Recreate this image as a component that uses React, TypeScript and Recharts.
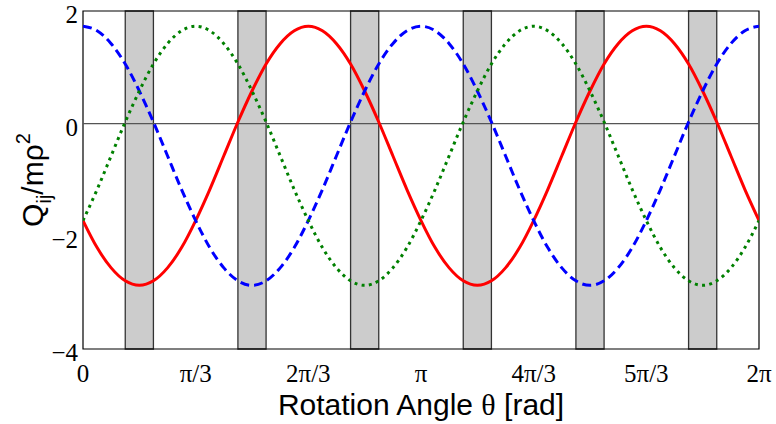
import React from "react";
import {
  LineChart,
  Line,
  XAxis,
  YAxis,
  ReferenceArea,
  ReferenceLine,
} from "recharts";

// x positions in steps of π/24 (0 .. 2π)
const steps = [
  0, 1, 2, 3, 4, 5, 6, 7, 8, 9, 10, 11, 12, 13, 14, 15, 16, 17, 18, 19, 20, 21, 22, 23,
  24, 25, 26, 27, 28, 29, 30, 31, 32, 33, 34, 35, 36, 37, 38, 39, 40, 41, 42, 43, 44, 45, 46, 47,
  48,
];

const redSeries = [
  -1.72, -2.2, -2.56, -2.79, -2.87, -2.79, -2.56, -2.2, -1.72, -1.17, -0.57, 0.03, 0.58, 1.06, 1.42, 1.65,
  1.73, 1.65, 1.42, 1.06, 0.58, 0.03, -0.57, -1.17,
  -1.72, -2.2, -2.56, -2.79, -2.87, -2.79, -2.56, -2.2, -1.72, -1.17, -0.57, 0.03, 0.58, 1.06, 1.42, 1.65,
  1.73, 1.65, 1.42, 1.06, 0.58, 0.03, -0.57, -1.17,
  -1.72,
];

const blueSeries = [
  1.73, 1.65, 1.42, 1.06, 0.58, 0.03, -0.57, -1.17, -1.72, -2.2, -2.56, -2.79, -2.87, -2.79, -2.56, -2.2,
  -1.72, -1.17, -0.57, 0.03, 0.58, 1.06, 1.42, 1.65,
  1.73, 1.65, 1.42, 1.06, 0.58, 0.03, -0.57, -1.17, -1.72, -2.2, -2.56, -2.79, -2.87, -2.79, -2.56, -2.2,
  -1.72, -1.17, -0.57, 0.03, 0.58, 1.06, 1.42, 1.65,
  1.73,
];

const greenSeries = [
  -1.72, -1.17, -0.57, 0.03, 0.58, 1.06, 1.42, 1.65, 1.73, 1.65, 1.42, 1.06, 0.58, 0.03, -0.57, -1.17,
  -1.72, -2.2, -2.56, -2.79, -2.87, -2.79, -2.56, -2.2,
  -1.72, -1.17, -0.57, 0.03, 0.58, 1.06, 1.42, 1.65, 1.73, 1.65, 1.42, 1.06, 0.58, 0.03, -0.57, -1.17,
  -1.72, -2.2, -2.56, -2.79, -2.87, -2.79, -2.56, -2.2,
  -1.72,
];

const xTicks = [0, 8, 16, 24, 32, 40, 48];
const xTickLabels = ["0", "π/3", "2π/3", "π", "4π/3", "5π/3", "2π"];
const yTicks = [-4, -2, 0, 2];
const yTickLabels = ["−4", "−2", "0", "2"];

// shaded windows, in the same π/24 steps
const bandStarts = [3, 11, 19, 27, 35, 43];
const bandEnds = [5, 13, 21, 29, 37, 45];

const data = steps.map((s, i) => ({
  step: s,
  red: redSeries[i],
  blue: blueSeries[i],
  green: greenSeries[i],
}));

const serif = "'Liberation Serif', 'Times New Roman', serif";
const sans = "'Liberation Sans', Arial, sans-serif";

const XTick = (props: any) => {
  const { x, y, payload } = props;
  return (
    <text x={x} y={y + 18} textAnchor="middle" fontFamily={serif} fontSize={25} fill="#000">
      {xTickLabels[xTicks.indexOf(payload.value)]}
    </text>
  );
};

const YTick = (props: any) => {
  const { x, y, payload } = props;
  return (
    <text x={x} y={y + 12} textAnchor="end" fontFamily={serif} fontSize={25} fill="#000">
      {yTickLabels[yTicks.indexOf(payload.value)]}
    </text>
  );
};

const YLabel = (props: any) => {
  const vb = props.viewBox || { x: 23, y: 11, width: 60, height: 338 };
  const cx = vb.x + vb.width - 40;
  const cy = vb.y + vb.height / 2;
  return (
    <text
      x={cx}
      y={cy}
      transform={`rotate(-90 ${cx} ${cy})`}
      textAnchor="middle"
      fontFamily={sans}
      fontSize={30}
      fill="#000"
    >
      Q
      <tspan fontSize={20} dy={8}>ij</tspan>
      <tspan dy={-8}>/mρ</tspan>
      <tspan fontSize={20} dy={-13}>2</tspan>
    </text>
  );
};

const XLabel = (props: any) => {
  const vb = props.viewBox || { x: 83, y: 349, width: 676, height: 40 };
  return (
    <text
      x={vb.x + vb.width / 2}
      y={vb.y + 66}
      textAnchor="middle"
      fontFamily={sans}
      fontSize={30}
      fill="#000"
    >
      Rotation Angle <tspan fontFamily={serif}>θ</tspan> [rad]
    </text>
  );
};

export default function App() {
  return (
    <div style={{ position: "absolute", left: 0, top: 0, width: 776, height: 424, background: "#fff" }}>
      <LineChart
        width={776}
        height={424}
        data={data}
        margin={{ top: 11, right: 17, bottom: 35, left: 23 }}
      >
        <XAxis
          dataKey="step"
          type="number"
          domain={[0, 48]}
          ticks={xTicks}
          tick={<XTick />}
          tickLine={false}
          tickSize={0}
          tickMargin={15}
          axisLine={false}
          height={40}
          interval={0}
          allowDataOverflow
          label={<XLabel />}
        />
        <YAxis
          type="number"
          domain={[-4, 2]}
          ticks={yTicks}
          tick={<YTick />}
          tickLine={false}
          tickSize={0}
          tickMargin={5}
          axisLine={false}
          width={60}
          interval={0}
          allowDataOverflow
          label={<YLabel />}
        />
        {bandStarts.map((b, i) => (
          <ReferenceArea
            key={b}
            x1={b}
            x2={bandEnds[i]}
            y1={-4}
            y2={2}
            fill="#cccccc"
            fillOpacity={1}
            stroke="#333"
            strokeWidth={1.3}
          />
        ))}
        <ReferenceLine y={0} stroke="#555" strokeWidth={1.3} />
        <Line
          dataKey="red"
          type="monotone"
          stroke="#ff0000"
          strokeWidth={3}
          dot={false}
          isAnimationActive={false}
        />
        <Line
          dataKey="blue"
          type="monotone"
          stroke="#0000ff"
          strokeWidth={3}
          strokeDasharray="9 5"
          dot={false}
          isAnimationActive={false}
        />
        <Line
          dataKey="green"
          type="monotone"
          stroke="#008000"
          strokeWidth={3}
          strokeDasharray="3 4.3"
          dot={false}
          isAnimationActive={false}
        />
        <ReferenceArea
          x1={0}
          x2={48}
          y1={-4}
          y2={2}
          fill="none"
          stroke="#000"
          strokeWidth={1.2}
        />
      </LineChart>
    </div>
  );
}
